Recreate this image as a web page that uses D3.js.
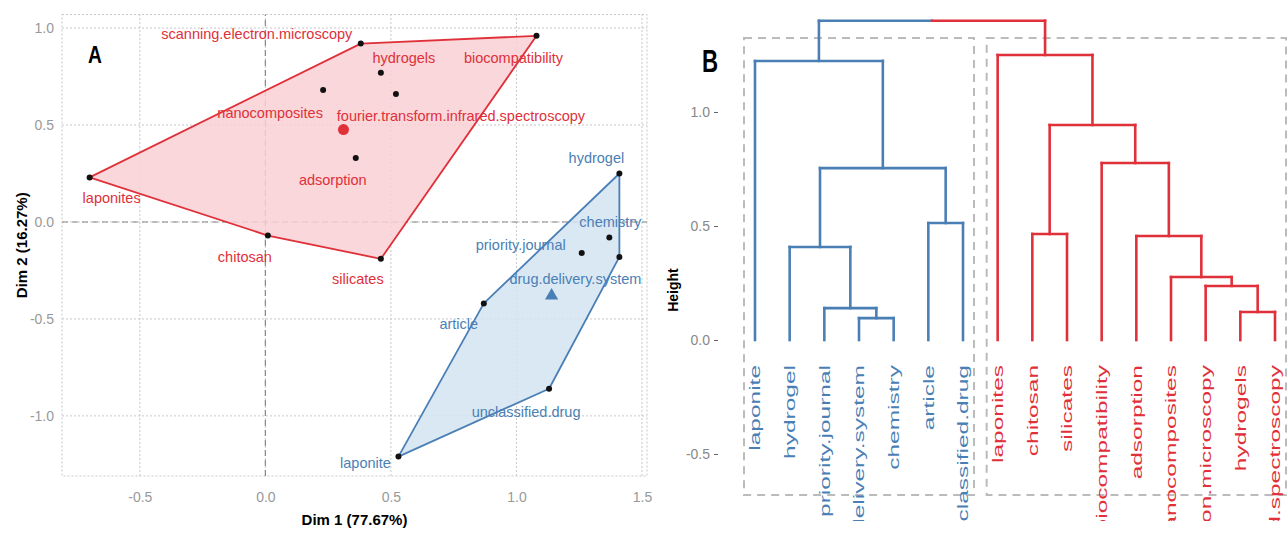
<!DOCTYPE html>
<html>
<head>
<meta charset="utf-8">
<script src="https://cdn.jsdelivr.net/npm/d3@7"></script>
<style>
  body { margin: 0; background: #fff; }
  svg { display: block; font-family: "Liberation Sans", Arial, sans-serif; }
</style>
</head>
<body>
<div id="chart"></div>
<script>
// ---- data: panel A (PCA map of keywords) ----
var pcaTerms = ["scanning.electron.microscopy", "hydrogels", "biocompatibility", "nanocomposites",
    "fourier.transform.infrared.spectroscopy", "adsorption", "laponites", "chitosan", "silicates",
    "hydrogel", "chemistry", "priority.journal", "drug.delivery.system", "article",
    "unclassified.drug", "laponite"];
var dim1 = [0.38, 0.46, 1.08, 0.23, 0.52, 0.36, -0.70, 0.01, 0.46, 1.41, 1.37, 1.26, 1.41, 0.87, 1.13, 0.53];
var dim2 = [0.92, 0.77, 0.96, 0.68, 0.66, 0.33, 0.23, -0.07, -0.19, 0.25, -0.08, -0.16, -0.18, -0.42, -0.86, -1.21];
var pcaCluster = [2, 2, 2, 2, 2, 2, 2, 2, 2, 1, 1, 1, 1, 1, 1, 1];
var xTicksA = [-0.5, 0.0, 0.5, 1.0, 1.5];
var yTicksA = [-1.0, -0.5, 0.0, 0.5, 1.0];

// ---- data: panel B (dendrogram, hclust style merges) ----
var leafOrder = ["laponite", "hydrogel", "priority.journal", "drug.delivery.system", "chemistry", "article",
    "unclassified.drug", "laponites", "chitosan", "silicates", "biocompatibility", "adsorption",
    "nanocomposites", "scanning.electron.microscopy", "hydrogels", "fourier.transform.infrared.spectroscopy"];
var mergeLeft = ["drug.delivery.system", "priority.journal", "hydrogel", "article", "n2", "laponite",
    "hydrogels", "scanning.electron.microscopy", "nanocomposites", "adsorption", "chitosan",
    "biocompatibility", "n10", "laponites", "n5"];
var mergeRight = ["chemistry", "n0", "n1", "unclassified.drug", "n3", "n4",
    "fourier.transform.infrared.spectroscopy", "n6", "n7", "n8", "silicates",
    "n9", "n11", "n12", "n13"];
var mergeHeight = [0.096, 0.14, 0.408, 0.513, 0.754, 1.224, 0.123, 0.237, 0.276, 0.456, 0.465, 0.776, 0.943, 1.25, 1.40];
var yTicksB = [-0.5, 0.0, 0.5, 1.0];

var red = "#e0303a", blue = "#4a7fb5";
var clusterColor = {1: blue, 2: red};
var clusterFill = {1: "#d3e4f2", 2: "#f8d0d3"};

var W = 1287, H = 533;
var svg = d3.select("#chart").append("svg").attr("width", W).attr("height", H);
svg.append("rect").attr("width", W).attr("height", H).attr("fill", "#fff");

// ================= panel A =================
var xA = d3.scaleLinear().domain([-0.81, 1.52]).range([62, 647]);
var yA = d3.scaleLinear().domain([-1.31, 1.07]).range([476, 14.5]);
var gA = svg.append("g");

// grid
gA.selectAll("line.gx").data(xTicksA).enter().append("line")
    .attr("x1", d => xA(d)).attr("x2", d => xA(d))
    .attr("y1", yA.range()[0]).attr("y2", yA.range()[1])
    .attr("stroke", "#c8c8c8").attr("stroke-dasharray", "2,2");
gA.selectAll("line.gy").data(yTicksA).enter().append("line")
    .attr("x1", xA.range()[0]).attr("x2", xA.range()[1])
    .attr("y1", d => yA(d)).attr("y2", d => yA(d))
    .attr("stroke", "#c8c8c8").attr("stroke-dasharray", "2,2");
gA.append("rect")
    .attr("x", xA.range()[0]).attr("y", yA.range()[1])
    .attr("width", xA.range()[1] - xA.range()[0]).attr("height", yA.range()[0] - yA.range()[1])
    .attr("fill", "none").attr("stroke", "#c8c8c8").attr("stroke-dasharray", "2,2");

// zero lines
gA.append("line").attr("x1", xA(0)).attr("x2", xA(0)).attr("y1", yA.range()[0]).attr("y2", yA.range()[1])
    .attr("stroke", "#888").attr("stroke-width", 1.2).attr("stroke-dasharray", "6,4");
gA.append("line").attr("x1", xA.range()[0]).attr("x2", xA.range()[1]).attr("y1", yA(0)).attr("y2", yA(0))
    .attr("stroke", "#888").attr("stroke-width", 1.2).attr("stroke-dasharray", "6,4");

// axes
var axB = gA.append("g").attr("transform", "translate(0," + yA.range()[0] + ")")
    .call(d3.axisBottom(xA).tickValues(xTicksA).tickSize(0).tickPadding(16).tickFormat(d => d.toFixed(1)));
var axL = gA.append("g").attr("transform", "translate(" + xA.range()[0] + ",0)")
    .call(d3.axisLeft(yA).tickValues(yTicksA).tickSize(0).tickPadding(8).tickFormat(d => d.toFixed(1)));
[axB, axL].forEach(function(a) {
    a.select(".domain").remove();
    a.selectAll("text").attr("fill", "#999").style("font-size", "14px");
});

gA.append("text").attr("x", (xA.range()[0] + xA.range()[1]) / 2).attr("y", 525)
    .attr("text-anchor", "middle").style("font-weight", "bold").style("font-size", "15px")
    .text("Dim 1 (77.67%)");
gA.append("text").attr("transform", "translate(27," + (yA.range()[0] + yA.range()[1]) / 2 + ") rotate(-90)")
    .attr("text-anchor", "middle").style("font-weight", "bold").style("font-size", "15px")
    .text("Dim 2 (16.27%)");

var pts = pcaTerms.map(function(t, i) {
    return {term: t, x: dim1[i], y: dim2[i], k: pcaCluster[i]};
});

// hulls
[2, 1].forEach(function(k) {
    var sub = pts.filter(p => p.k === k).map(p => [xA(p.x), yA(p.y)]);
    var hull = d3.polygonHull(sub);
    gA.append("path").attr("d", "M" + hull.join("L") + "Z")
        .attr("fill", clusterFill[k]).attr("fill-opacity", 0.85)
        .attr("stroke", clusterColor[k]).attr("stroke-width", 1.8).attr("stroke-linejoin", "round");
});

// label nudges in pixels (repel-like placement)
var labelNudge = {
    "scanning.electron.microscopy": [-104, -10], "hydrogels": [23, -15], "biocompatibility": [-23, 22],
    "nanocomposites": [-53, 23], "fourier.transform.infrared.spectroscopy": [65, 22], "adsorption": [-23, 22],
    "laponites": [22, 21], "chitosan": [-23, 21], "silicates": [-23, 20], "hydrogel": [-23, -16],
    "chemistry": [1, -15], "priority.journal": [-61, -8], "drug.delivery.system": [-44, 22],
    "article": [-25, 21], "unclassified.drug": [-23, 23], "laponite": [-33, 6]
};

gA.selectAll("text.lab").data(pts).enter().append("text")
    .attr("x", d => xA(d.x) + labelNudge[d.term][0])
    .attr("y", d => yA(d.y) + labelNudge[d.term][1])
    .attr("text-anchor", "middle").attr("dominant-baseline", "central")
    .attr("fill", d => clusterColor[d.k]).style("font-size", "14.5px")
    .text(d => d.term);

gA.selectAll("circle.pt").data(pts).enter().append("circle")
    .attr("cx", d => xA(d.x)).attr("cy", d => yA(d.y)).attr("r", 3).attr("fill", "#111");

// cluster centres
var cRed = [d3.mean(pts.filter(p => p.k === 2), p => p.x), d3.mean(pts.filter(p => p.k === 2), p => p.y)];
var cBlue = [d3.mean(pts.filter(p => p.k === 1), p => p.x), d3.mean(pts.filter(p => p.k === 1), p => p.y)];
gA.append("circle").attr("cx", xA(cRed[0])).attr("cy", yA(cRed[1])).attr("r", 5.5).attr("fill", red);
gA.append("path").attr("transform", "translate(" + xA(cBlue[0]) + "," + yA(cBlue[1]) + ")")
    .attr("d", d3.symbol().type(d3.symbolTriangle).size(75)).attr("fill", blue);

svg.append("text").attr("transform", "translate(88,63) scale(0.8,1)")
    .style("font-weight", "bold").style("font-size", "24px").text("A");

// ================= panel B =================
var xB = d3.scalePoint().domain(leafOrder).range([755, 1275]);
var yB = d3.scaleLinear().domain([-0.5, 1.0]).range([454, 112]);
var gB = svg.append("g");

// build tree from merges
var nodes = {};
leafOrder.forEach(function(l) { nodes[l] = {name: l, h: 0, x: xB(l)}; });
mergeLeft.forEach(function(l, i) {
    var a = nodes[l], b = nodes[mergeRight[i]];
    nodes["n" + i] = {name: "n" + i, h: mergeHeight[i], children: [a, b], x: (a.x + b.x) / 2};
});
var root = nodes["n" + (mergeLeft.length - 1)];
function paint(n, c) { n.color = c; (n.children || []).forEach(ch => paint(ch, c)); }
paint(root.children[0], blue);
paint(root.children[1], red);

// cluster rectangles
var cutH = (root.h + d3.max(root.children, c => c.h)) / 2;
root.children.forEach(function(c) {
    var ls = [];
    (function walk(n) { if (!n.children) ls.push(n.x); else n.children.forEach(walk); })(c);
    gB.append("rect")
        .attr("x", d3.min(ls) - 11).attr("y", yB(cutH))
        .attr("width", d3.max(ls) - d3.min(ls) + 22).attr("height", yB(-0.68) - yB(cutH))
        .attr("fill", "none").attr("stroke", "#bbb").attr("stroke-width", 2).attr("stroke-dasharray", "8,6");
});

// segments
var segs = [];
(function walk(n) {
    if (!n.children) return;
    var a = n.children[0], b = n.children[1];
    if (n === root) {
        segs.push({x1: a.x, y1: n.h, x2: n.x, y2: n.h, c: a.color});
        segs.push({x1: n.x, y1: n.h, x2: b.x, y2: n.h, c: b.color});
    } else {
        segs.push({x1: a.x, y1: n.h, x2: b.x, y2: n.h, c: n.color});
    }
    n.children.forEach(function(ch) {
        segs.push({x1: ch.x, y1: n.h, x2: ch.x, y2: ch.h, c: ch.color});
        walk(ch);
    });
})(root);
gB.selectAll("line.seg").data(segs).enter().append("line")
    .attr("x1", d => d.x1).attr("x2", d => d.x2)
    .attr("y1", d => yB(d.y1)).attr("y2", d => yB(d.y2))
    .attr("stroke", d => d.c).attr("stroke-width", 2.6).attr("stroke-linecap", "square");

// leaf labels (cut at the bottom of the panel, as in the source figure)
svg.append("clipPath").attr("id", "clipB").append("rect")
    .attr("x", 700).attr("y", 0).attr("width", 600).attr("height", 521);
var leafNodes = leafOrder.map(l => nodes[l]);
gB.append("g").attr("clip-path", "url(#clipB)")
    .selectAll("text").data(leafNodes).enter().append("text")
    .attr("transform", d => "translate(" + d.x + "," + (yB(0) + 25) + ") rotate(-90) scale(1,0.62)")
    .attr("text-anchor", "end").attr("dominant-baseline", "central")
    .attr("fill", d => d.color).style("font-size", "24.5px")
    .text(d => d.name);

// y axis
var axY = gB.append("g").attr("transform", "translate(718,0)")
    .call(d3.axisLeft(yB).tickValues(yTicksB).tickSize(4).tickPadding(4).tickFormat(d => d.toFixed(1)));
axY.select(".domain").remove();
axY.selectAll("line").attr("stroke", "#666");
axY.selectAll("text").attr("fill", "#888").style("font-size", "14px");

gB.append("text").attr("transform", "translate(678,290) rotate(-90)")
    .attr("text-anchor", "middle").style("font-weight", "bold").style("font-size", "14px")
    .text("Height");

svg.append("text").attr("transform", "translate(702,72) scale(0.72,1)")
    .style("font-weight", "bold").style("font-size", "31px").text("B");
</script>
</body>
</html>
